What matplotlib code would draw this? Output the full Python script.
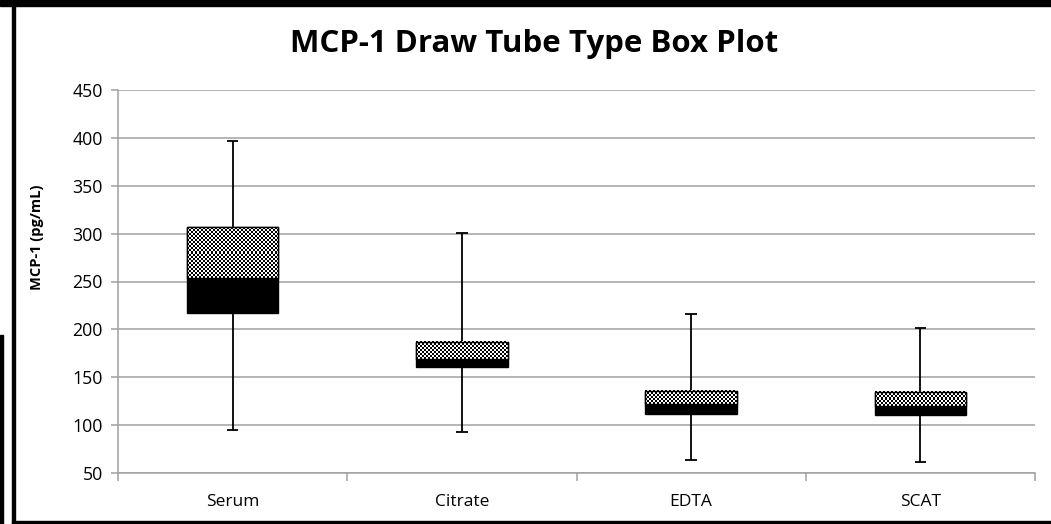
import numpy as np
import matplotlib.pyplot as plt
from matplotlib.patches import Rectangle

plt.rcParams["font.family"] = ["Open Sans", "DejaVu Sans"]

# box plot summary per draw tube type (pg/mL)
categories = ["Serum", "Citrate", "EDTA", "SCAT"]
whisker_low = [95, 93, 64, 62]
q1 = [217, 161, 112, 111]
median = [254, 169, 122, 120]
q3 = [307, 187, 136, 135]
whisker_high = [397, 301, 216, 201]

W, H = 1051, 524
fig = plt.figure(figsize=(W / 100, H / 100), dpi=100)
ax = fig.add_axes([118 / W, 1 - 473 / H, (1035 - 118) / W, (473 - 90) / H])

x = np.arange(len(categories))
ax.set_xlim(-0.5, len(categories) - 0.5)
ax.set_ylim(50, 450)
ax.set_yticks(np.arange(50, 451, 50))

grid_c = "#a0a0a0"
ax.grid(axis="y", color=grid_c, linewidth=1.1, zorder=0)
ax.set_axisbelow(True)
for side in ["top", "right"]:
    ax.spines[side].set_visible(False)
for side in ["left", "bottom"]:
    ax.spines[side].set_color(grid_c)
    ax.spines[side].set_linewidth(1.1)

ax.tick_params(axis="y", length=5, color=grid_c, width=1.1, labelsize=12.8, pad=6)
ax.set_xticks(np.arange(-0.5, len(categories), 1.0))
ax.set_xticklabels([])
ax.tick_params(axis="x", which="major", length=6, color=grid_c, width=1.1)
ax.set_xticks(x, minor=True)
ax.set_xticklabels(categories, minor=True)
ax.tick_params(axis="x", which="minor", length=0, labelsize=12.5, pad=15)

# whiskers (behind boxes)
ax.vlines(x, whisker_low, whisker_high, color="black", linewidth=1.3, zorder=2)
ax.hlines(whisker_low, x - 0.025, x + 0.025, color="black", linewidth=1.3, zorder=2)
ax.hlines(whisker_high, x - 0.025, x + 0.025, color="black", linewidth=1.3, zorder=2)

bw = 0.4
lo = np.array(median) - np.array(q1)
hi = np.array(q3) - np.array(median)
ax.bar(x, lo, bottom=q1, width=bw, color="black", edgecolor="black", linewidth=1, zorder=3)
ax.bar(x, hi, bottom=median, width=bw, color="white", edgecolor="black", linewidth=1, zorder=3)

# checkerboard fill on the upper half of each box
for xi, m, top in zip(x, median, q3):
    x0, x1 = xi - bw / 2, xi + bw / 2
    p0 = ax.transData.transform((x0, m))
    p1 = ax.transData.transform((x1, top))
    nx = max(int(round(abs(p1[0] - p0[0]) / 2)), 1)
    ny = max(int(round(abs(p1[1] - p0[1]) / 2)), 1)
    board = (np.indices((ny, nx)).sum(axis=0) % 2).astype(float)
    ax.imshow(board, cmap="gray", extent=(x0, x1, m, top), aspect="auto",
              interpolation="nearest", origin="lower", zorder=4)
    ax.add_patch(Rectangle((x0, m), bw, top - m, fill=False, edgecolor="black",
                           linewidth=1, zorder=5))
ax.set_xlim(-0.5, len(categories) - 0.5)
ax.set_ylim(50, 450)

fig.text(534 / W, 1 - 44 / H, "MCP-1 Draw Tube Type Box Plot", ha="center", va="center",
         fontsize=22.5, fontweight="bold")
fig.text(37 / W, 1 - 237 / H, "MCP-1 (pg/mL)", ha="center", va="center", rotation=90,
         fontsize=10.5, fontweight="bold")

# black frame pieces of the original screenshot
fig.add_artist(Rectangle((0, 1 - 6 / H), 1, 6 / H, transform=fig.transFigure, color="black"))
fig.add_artist(Rectangle((11.5 / W, 0), 3.5 / W, 1, transform=fig.transFigure, color="black"))
fig.add_artist(Rectangle((11.5 / W, 0), 1, 3 / H, transform=fig.transFigure, color="black"))
fig.add_artist(Rectangle((0, 0), 3 / W, (H - 335) / H, transform=fig.transFigure, color="black"))

fig.savefig("out.png", dpi=100, facecolor="white")
